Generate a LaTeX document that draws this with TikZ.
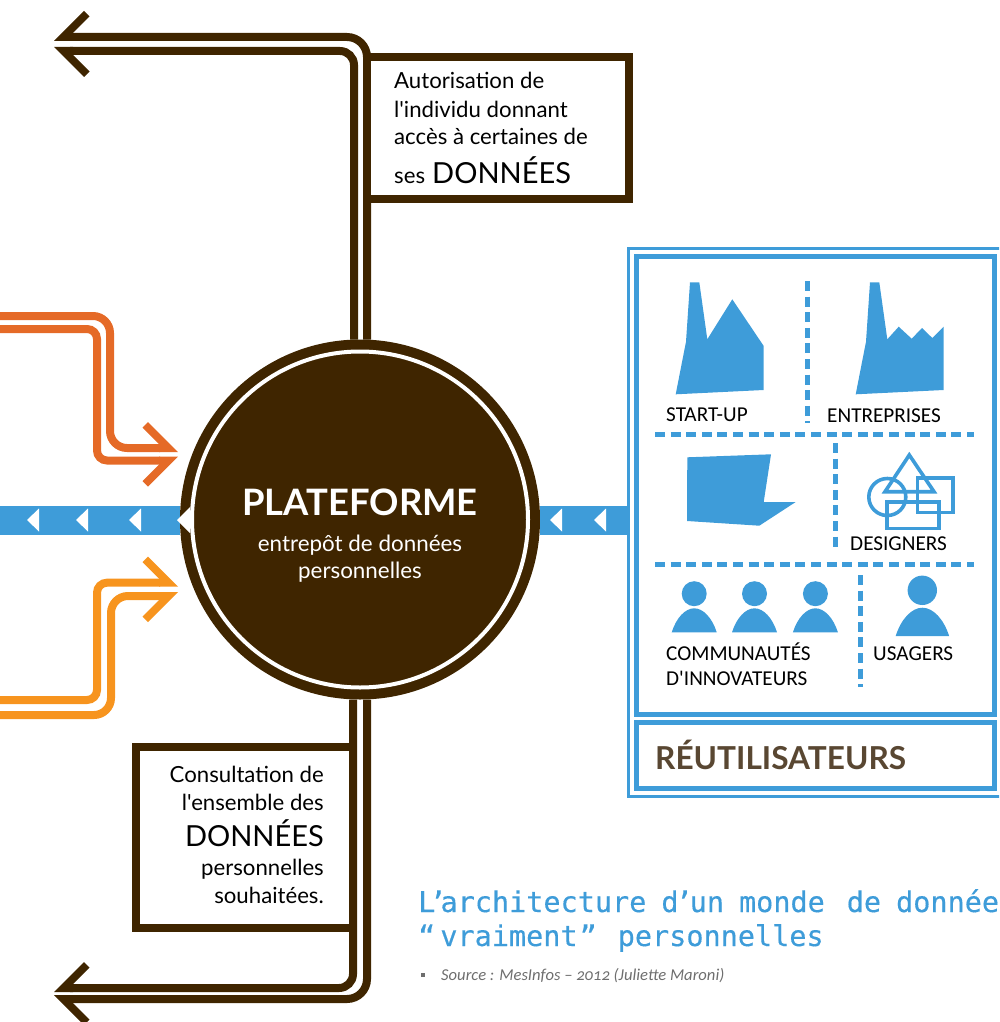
\documentclass[tikz,border=0pt]{standalone}
\usepackage{fontspec}
\setmainfont{Lato}
\newfontfamily\noticefont{Lato}
\newfontfamily\panelfont{Carlito}
\newfontfamily\titlefont[FakeBold=0.35]{DejaVu Sans Mono}
\newfontfamily\sourcefont[Numbers=OldStyle]{Carlito}
\definecolor{platbrown}{HTML}{3F2500}
\definecolor{reuseblue}{HTML}{3E9CD9}
\definecolor{flowred}{HTML}{E56A27}
\definecolor{flowamber}{HTML}{F7941E}
\definecolor{labelbrown}{HTML}{594732}
\definecolor{sourcegray}{HTML}{6E6E6E}
\newcommand{\halfhead}[4]{\fill[#4,shift={(#1)},xscale=#2,yscale=#3] (0,0) -- (30,-30) -- (35.5,-24.5) -- (19,-8) -- (19,0) -- cycle;}
\newcommand{\bodyshape}[4]{\fill[icon] (#1-#3,#2) .. controls (#1-#3*0.8,#2-#4*0.6) and (#1-#3*0.4,#2-#4) .. (#1,#2-#4) .. controls (#1+#3*0.4,#2-#4) and (#1+#3*0.8,#2-#4*0.6) .. (#1+#3,#2) -- cycle;}
\begin{document}
\begin{tikzpicture}[x=1pt,y=-1pt,
    brown line/.style={draw=platbrown,line width=8pt},
    red line/.style={draw=flowred,line width=8pt},
    amber line/.style={draw=flowamber,line width=8pt},
    band/.style={draw=reuseblue,line width=29pt},
    dash line/.style={draw=reuseblue,line width=5pt,dash pattern=on 10pt off 5.6pt},
    box node/.style={rectangle,draw=platbrown,line width=8pt,outer sep=0pt,inner sep=0pt,fill=white},
    panel node/.style={rectangle,draw=reuseblue,line width=5pt,outer sep=0pt,inner sep=0pt},
    notice/.style={font=\noticefont\fontsize{22.2}{28}\selectfont,text=black,inner sep=0pt},
    big word/.style={font=\noticefont\fontsize{29}{36}\selectfont,text=black,inner sep=0pt},
    icon label/.style={font=\panelfont\fontsize{21.2}{25}\selectfont,text=black,anchor=base west,inner sep=0pt},
    icon/.style={fill=reuseblue},
    outline/.style={draw=reuseblue,line width=3.6pt}]
    \useasboundingbox (0,0) rectangle (999,1022);
    \clip (0,0) rectangle (999,1022);

    \node[circle,fill=platbrown,minimum size=360pt,inner sep=0pt,outer sep=0pt] at (360,519.5) (plat) {};
    \node[circle,draw=white,line width=4pt,minimum size=336pt,inner sep=0pt] at (plat) (platring) {};
    \node[font=\bfseries\fontsize{36.4}{40}\selectfont,text=white,inner sep=0pt] at (360,502) (plattitle) {PLATEFORME};
    \node[font=\noticefont\fontsize{22.4}{27}\selectfont,text=white,align=center,inner sep=0pt,anchor=base] at (360,578) (platsub) {entrepôt de données\\personnelles};

    \coordinate (topouter) at (70,37);
    \coordinate (topinner) at (70,51);
    \coordinate (bottominner) at (70,988);
    \coordinate (bottomouter) at (70,999);
    \coordinate (redstartA) at (0,316);
    \coordinate (redstartB) at (0,329);
    \coordinate (redbendA) at (110,380);
    \coordinate (redbendB) at (97,390);
    \coordinate (redendA) at (160,448);
    \coordinate (redendB) at (160,460.5);
    \coordinate (amberstartA) at (0,700);
    \coordinate (amberstartB) at (0,715);
    \coordinate (amberbendA) at (97,640);
    \coordinate (amberbendB) at (111,650);
    \coordinate (amberendA) at (160,582.7);
    \coordinate (amberendB) at (160,596);
    \coordinate (bandleft) at (0,520);

    \draw[brown line,rounded corners=20pt] ([xshift=7pt]plat.north) |- (topouter);
    \draw[brown line,rounded corners=14pt] ([xshift=-6pt]plat.north) |- (topinner);
    \draw[brown line,rounded corners=14pt] ([xshift=-7pt]plat.south) |- (bottominner);
    \draw[brown line,rounded corners=20pt] ([xshift=7pt]plat.south) |- (bottomouter);
    \halfhead{54,41}{1}{1}{platbrown}
    \halfhead{54,47}{1}{-1}{platbrown}
    \halfhead{54,992}{1}{1}{platbrown}
    \halfhead{54,995}{1}{-1}{platbrown}

    \draw[red line,rounded corners=17pt] (redstartA) -| (redbendA) |- (redendA);
    \draw[red line,rounded corners=10pt] (redstartB) -| (redbendB) |- (redendB);
    \draw[amber line,rounded corners=17pt] (amberstartB) -| (amberbendB) |- (amberendB);
    \draw[amber line,rounded corners=10pt] (amberstartA) -| (amberbendA) |- (amberendA);
    \halfhead{178,452}{-1}{1}{flowred}
    \halfhead{178,456.5}{-1}{-1}{flowred}
    \halfhead{178,586.7}{-1}{1}{flowamber}
    \halfhead{178,592}{-1}{-1}{flowamber}

    \draw[band] (bandleft) -- (bandleft -| plat.west);
    \foreach \x in {27,76,129}
        \fill[white] (\x,520) -- (\x+12,508.5) -- (\x+12,531.5) -- cycle;
    \fill[white] (177,520) -- (190,507) -- (190,533) -- cycle;

    \node[box node,minimum width=262pt,minimum height=142pt] at (498,128) (accessbox) {};
    \node[notice,align=left,anchor=base west] at (394,145) (accesstext) {Autorisation de\\l'individu donnant\\accès à certaines de};
    \node[notice,anchor=base west] at (394,183) (accessses) {ses};
    \node[big word,anchor=base west] at (432,183) (accessword) {DONNÉES};

    \node[box node,minimum width=217pt,minimum height=181.5pt] at (244.5,837.25) (viewbox) {};
    \node[notice,align=right,anchor=base east] at (324,810) (viewtextA) {Consultation de\\l'ensemble des};
    \node[big word,anchor=base east] at (324,846) (viewword) {DONNÉES};
    \node[notice,align=right,anchor=base east] at (324,903) (viewtextB) {personnelles\\souhaitées.};

    \node[rectangle,draw=reuseblue,line width=3pt,minimum width=400pt,minimum height=548pt,inner sep=0pt,outer sep=0pt,anchor=north west] at (628.5,248.5) (reuseframe) {};
    \draw[band] (plat.east |- bandleft) -- (reuseframe.west |- bandleft);
    \foreach \x in {550,594}
        \fill[white] (\x,520) -- (\x+12,508.5) -- (\x+12,531.5) -- cycle;

    \node[panel node,minimum width=358pt,minimum height=458.5pt,anchor=north west] at (636.5,256) (reusebox) {};
    \node[panel node,minimum width=358pt,minimum height=66pt,anchor=north west] at (636.5,722.5) (labelbox) {};
    \node[font=\bfseries\fontsize{31.6}{36}\selectfont,text=labelbrown,anchor=base west,inner sep=0pt] at (655,769) (labeltext) {RÉUTILISATEURS};

    \draw[dash line] (807,281) -- (807,423);
    \draw[dash line] (655,434) -- (974,434);
    \draw[dash line] (835,443) -- (835,547);
    \draw[dash line] (655,564) -- (974,564);
    \draw[dash line] (860,575) -- (860,687);

    \fill[icon] (675.7,394.3) -- (686,341.7) -- (690,282.3) -- (699.3,282.3) -- (707.3,339.3) -- (732.3,299.3) -- (763.7,346) -- (763.7,390) -- cycle;
    \fill[icon] (855.7,394.3) -- (866,341.7) -- (870,282.3) -- (879.3,282.3) -- (887.3,339.3) -- (898.7,326.7) -- (911.7,338.7) -- (922,328) -- (932.3,338) -- (943.7,326.7) -- (943.7,390) -- cycle;
    \fill[icon] (687.3,457.3) -- (771,454.3) -- (763.7,502) -- (795.7,502) -- (759.3,525.7) -- (687,521) -- cycle;
    \draw[outline] (887.3,497) circle[radius=18.5];
    \draw[outline,line join=miter] (909.3,455) -- (934,491.7) -- (885,491.7) -- cycle;
    \draw[outline] (917.3,477.7) rectangle (952.7,512.3);
    \draw[outline] (887,501.7) rectangle (939,528.3);
    \foreach \x in {694.2,754.5,815.4} {
        \fill[icon] (\x,593.7) circle[radius=12.5];
        \bodyshape{\x}{632.3}{22.5}{24}
    }
    \fill[icon] (922.3,590.3) circle[radius=14.7];
    \bodyshape{922.4}{636}{26.7}{28.3}

    \node[icon label] at (666,421) (startup) {START-UP};
    \node[icon label] at (827,422) (entreprises) {ENTREPRISES};
    \node[icon label] at (850,550) (designers) {DESIGNERS};
    \node[icon label] at (666,660) (communautes) {COMMUNAUTÉS};
    \node[icon label] at (666,685) (innovateurs) {D'INNOVATEURS};
    \node[icon label] at (873,660) (usagers) {USAGERS};

    \node[font=\titlefont\fontsize{28.5}{34}\selectfont,text=reuseblue,anchor=base west,align=left,inner sep=0pt] at (418,946) (maintitle) {\spaceskip=15pt L\kern-6pt’\kern-6pt architecture d\kern-3pt’\kern-3pt un monde\kern7pt{} de données\\\spaceskip=21pt “\kern5pt vraiment\kern2pt” personnelles};
    \fill[sourcegray] (421,973) rectangle (425,977);
    \node[font=\sourcefont\itshape\fontsize{16.6}{18}\selectfont,text=sourcegray,anchor=base west,inner sep=0pt] at (441,980) (sourceline) {Source : MesInfos – 2012 (Juliette Maroni)};
\end{tikzpicture}
\end{document}
